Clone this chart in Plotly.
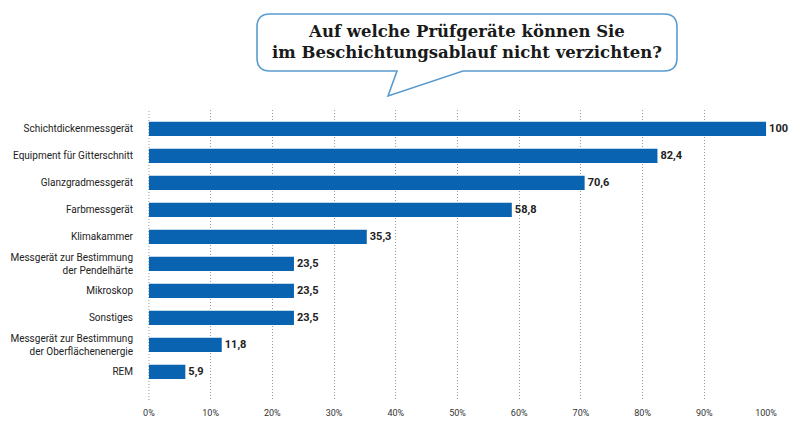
import plotly.graph_objects as go

categories = [
    "Schichtdickenmessgerät",
    "Equipment für Gitterschnitt",
    "Glanzgradmessgerät",
    "Farbmessgerät",
    "Klimakammer",
    "Messgerät zur Bestimmung<br>der Pendelhärte",
    "Mikroskop",
    "Sonstiges",
    "Messgerät zur Bestimmung<br>der Oberflächenenergie",
    "REM",
]
values = [100, 82.4, 70.6, 58.8, 35.3, 23.5, 23.5, 23.5, 11.8, 5.9]
value_labels = ["100", "82,4", "70,6", "58,8", "35,3", "23,5", "23,5", "23,5", "11,8", "5,9"]
x_ticks = [0, 10, 20, 30, 40, 50, 60, 70, 80, 90, 100]
x_tick_labels = [f"{t}%" for t in x_ticks]
title_text = "Auf welche Prüfgeräte können Sie<br>im Beschichtungsablauf nicht verzichten?"

W, H = 805, 426
ML, MR, MT, MB = 148, 38, 110, 26
PW, PH = W - ML - MR, H - MT - MB

def px(x):
    return (x - ML) / PW

def py(y):
    return (H - MB - y) / PH

idx = list(range(len(categories)))

fig = go.Figure()
fig.add_trace(go.Bar(
    x=values, y=idx, orientation="h",
    marker=dict(color="#0a63b0", line=dict(width=0)),
    width=0.53,
    text=value_labels, textposition="outside",
    textfont=dict(family="Roboto", size=11, color="#222222", weight="bold"),
    cliponaxis=False,
    hoverinfo="skip",
))

# gridline at 0 (plotly omits the edge grid line)
fig.add_shape(type="line", x0=0, x1=0, y0=0, y1=1, xref="x", yref="paper",
              line=dict(color="#9a9a9a", width=1, dash="1px,2px"), layer="below")

# callout bubble
x0, x1, y0, y1, r = 257, 677, 14, 71, 13
pts = [
    ("M", x0 + r, y0), ("L", x1 - r, y0), ("Q", x1, y0, x1, y0 + r),
    ("L", x1, y1 - r), ("Q", x1, y1, x1 - r, y1),
    ("L", 463, y1), ("L", 388, 96), ("L", 397, y1),
    ("L", x0 + r, y1), ("Q", x0, y1, x0, y1 - r),
    ("L", x0, y0 + r), ("Q", x0, y0, x0 + r, y0),
]
path = ""
for p in pts:
    cmd = p[0]
    coords = p[1:]
    s = []
    for i in range(0, len(coords), 2):
        s.append(f"{px(coords[i]):.5f},{py(coords[i+1]):.5f}")
    path += cmd + " " + " ".join(s) + " "
path += "Z"
fig.add_shape(type="path", path=path, xref="paper", yref="paper",
              line=dict(color="#5a9ccf", width=1.6), fillcolor="white")

fig.add_annotation(
    x=px(467), y=py(42), xref="paper", yref="paper",
    text=title_text, showarrow=False,
    font=dict(family="DejaVu Serif", size=16.5, color="#1a1a1a", weight="bold"),
    align="center", xanchor="center", yanchor="middle",
)

fig.update_layout(
    width=W, height=H,
    margin=dict(l=ML, r=MR, t=MT, b=MB, pad=0, autoexpand=False),
    paper_bgcolor="white", plot_bgcolor="white",
    showlegend=False,
    bargap=0.47,
    xaxis=dict(
        range=[-0.15, 100.15], tickvals=x_ticks, ticktext=x_tick_labels,
        showgrid=True, gridcolor="#9a9a9a", griddash="1px,2px", gridwidth=1,
        zeroline=False, showline=False, ticks="", automargin=False,
        tickfont=dict(family="Roboto", size=9, color="#333333"),
        ticklabelstandoff=6,
    ),
    yaxis=dict(
        range=[len(categories) - 1 + 1.04, -0.7],
        tickvals=idx, ticktext=categories, automargin=False,
        showgrid=False, zeroline=False, showline=False, ticks="",
        tickfont=dict(family="Roboto", size=10, color="#222222"),
        ticklabelstandoff=14,
    ),
    font=dict(family="Roboto"),
)

fig.write_html(
    "out.html",
    config={"displayModeBar": False, "staticPlot": True},
    post_script="document.body.style.margin='0';document.body.style.overflow='hidden';",
)
